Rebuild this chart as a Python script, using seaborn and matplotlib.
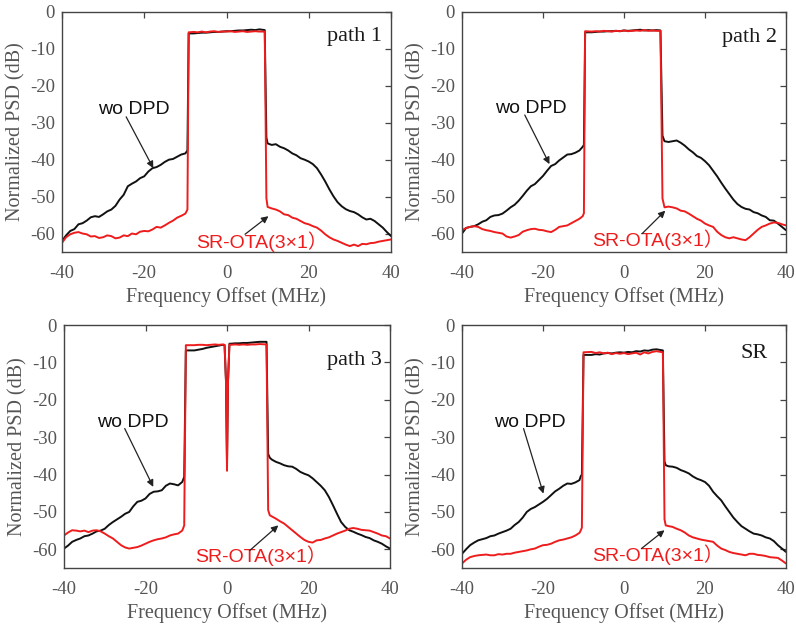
import numpy as np
import pandas as pd
import seaborn as sns
import matplotlib
matplotlib.use("Agg")
import matplotlib.pyplot as plt

# ---------------- data ----------------
skirt_left = list(range(-40, -10))
skirt_right = list(range(11, 41))
band = list(range(-8, 9))

panel_titles = ["path 1", "path 2", "path 3", "SR"]
label_wo = "wo DPD"
label_sr = "SR-OTA(3×1）"
x_ticks = [-40, -20, 0, 20, 40]
y_ticks = [0, -10, -20, -30, -40, -50, -60]

# path 1
p1_freq = skirt_left + [-10, -9.5, -9.2] + band + [9.3, 9.7, 10] + skirt_right
p1_wo = [-62.0, -60.5, -59.3, -58.8, -57.5, -57.2, -56.5, -55.6, -55.3, -55.5,
         -54.8, -54.0, -53.5, -52.5, -50.8, -49.5, -47.2, -46.5, -45.9, -45.0,
         -44.5, -43.2, -42.3, -42.0, -41.4, -40.6, -40.0, -39.8, -39.2, -38.6,
         -38.3, -37.5, -5.8,
         -5.8, -5.7, -5.6, -5.6, -5.5, -5.4, -5.4, -5.3, -5.2, -5.2, -5.1, -5.0,
         -5.0, -4.9, -4.8, -4.9, -4.7,
         -4.9, -34.0, -35.6,
         -36.0, -35.8, -36.5, -36.9, -37.5, -38.3, -38.8, -39.6, -40.0, -40.5,
         -41.2, -42.3, -44.0, -45.9, -48.0, -49.9, -51.5, -52.6, -53.4, -53.9,
         -54.2, -54.8, -55.6, -56.2, -56.0, -56.6, -57.5, -58.4, -59.6, -60.7]
p1_sr = [-62.5, -61.0, -60.2, -59.8, -59.6, -60.0, -60.2, -60.8, -60.7, -61.2,
         -61.0, -60.5, -60.7, -61.3, -61.1, -60.5, -60.7, -60.0, -60.2, -59.5,
         -59.3, -59.4, -58.9, -58.2, -58.4, -57.8, -57.1, -56.5, -55.7, -55.2,
         -54.6, -53.5, -5.5,
         -5.4, -5.5, -5.3, -5.5, -5.3, -5.2, -5.4, -5.3, -5.3, -5.2, -5.4, -5.3,
         -5.2, -5.4, -5.3, -5.2, -5.3,
         -5.3, -50.5, -52.8,
         -53.2, -53.5, -54.0, -54.8, -55.0, -55.7, -56.0, -56.6, -57.2, -57.5,
         -58.0, -58.4, -59.2, -60.2, -61.0, -61.6, -62.0, -62.5, -63.0, -63.4,
         -63.0, -63.4, -62.8, -62.9, -62.6, -62.5, -62.2, -62.0, -61.8, -61.6]

# path 2
p2_freq = skirt_left + [-10.2, -9.9, -9.6] + band + [9.0, 9.5, 10] + skirt_right
p2_wo = [-60.0, -58.5, -58.2, -58.0, -57.5, -56.8, -56.4, -55.5, -55.1, -55.0,
         -54.6, -53.8, -52.9, -52.2, -51.1, -49.8, -48.4, -47.2, -46.6, -45.5,
         -44.4, -43.0, -41.7, -41.2, -40.2, -39.4, -38.6, -38.5, -38.1, -37.5,
         -36.5, -36.0, -5.5,
         -5.5, -5.4, -5.3, -5.3, -5.2, -5.2, -5.1, -5.2, -5.0, -5.1, -5.0, -4.9,
         -4.8, -5.0, -4.9, -5.0, -4.9,
         -5.0, -33.5, -35.0,
         -35.2, -35.0, -34.8, -35.4, -36.2, -37.2, -38.0, -39.0, -39.5, -40.4,
         -41.5, -43.0, -44.5, -46.2, -47.8, -49.3, -50.8, -52.0, -52.8, -53.3,
         -53.5, -54.2, -54.5, -55.1, -55.5, -56.4, -56.5, -57.3, -58.2, -59.1]
p2_sr = [-59.1, -58.5, -58.2, -58.0, -58.2, -58.8, -59.1, -59.3, -59.6, -59.8,
         -60.0, -60.8, -61.1, -60.8, -60.4, -59.5, -59.1, -58.8, -58.7, -59.0,
         -59.1, -59.4, -59.6, -59.0, -58.2, -58.0, -57.8, -57.2, -56.6, -56.0,
         -55.3, -54.5, -5.2,
         -5.3, -5.2, -5.3, -5.1, -5.2, -5.3, -5.1, -5.2, -5.0, -5.2, -5.1, -5.0,
         -5.1, -4.9, -5.1, -5.0, -5.1,
         -5.1, -50.5, -52.9,
         -52.7, -52.9, -53.2, -53.8, -54.0, -54.6, -55.3, -56.0, -56.5, -57.3,
         -57.8, -58.2, -59.5, -60.4, -61.0, -61.3, -61.0, -61.3, -61.6, -61.8,
         -61.0, -60.0, -59.0, -58.2, -57.8, -57.3, -57.0, -57.1, -57.5, -57.8]

# path 3 (notch at 0 MHz)
p3_band = [-8, -7, -6, -5, -4, -3, -2, -1, -0.6, -0.25, 0, 0.25, 0.6,
           1, 2, 3, 4, 5, 6, 7, 8]
p3_freq = skirt_left + [-10.8, -10.5, -10.1] + p3_band + [9.7, 10.1, 10.5] + skirt_right
p3_wo = [-59.8, -59.0, -58.0, -57.5, -57.1, -56.5, -56.3, -55.8, -55.2, -55.0,
         -54.5, -53.5, -52.7, -52.0, -51.3, -50.5, -50.0, -48.5, -47.3, -47.0,
         -46.4, -45.2, -44.6, -44.5, -44.2, -43.0, -42.4, -42.6, -42.9, -42.0,
         -41.5, -40.6, -6.8,
         -6.8, -6.6, -6.4, -6.1, -5.9, -5.7, -5.5, -5.3, -5.4, -15.0, -37.0,
         -15.0, -5.0, -5.0, -4.9, -4.9, -4.8, -4.8, -4.7, -4.6, -4.5,
         -4.5, -34.5, -35.5,
         -36.0, -36.6, -37.0, -37.5, -37.8, -37.9, -38.5, -39.3, -39.8, -40.2,
         -41.0, -42.0, -43.0, -44.2, -46.0, -48.2, -50.5, -52.7, -54.0, -54.9,
         -55.3, -55.8, -56.2, -56.7, -57.0, -57.6, -58.0, -58.5, -59.2, -59.8]
p3_sr = [-56.3, -55.5, -54.9, -55.0, -55.2, -55.0, -55.4, -55.0, -54.9, -55.2,
         -55.8, -56.5, -57.1, -58.0, -58.9, -59.5, -59.8, -59.6, -59.4, -59.0,
         -58.5, -58.0, -57.6, -57.3, -57.1, -56.8, -56.3, -56.0, -55.8, -55.0,
         -54.5, -53.6, -5.4,
         -5.4, -5.3, -5.3, -5.4, -5.3, -5.2, -5.3, -5.2, -5.3, -15.0, -39.0,
         -15.0, -5.2, -5.3, -5.2, -5.3, -5.2, -5.3, -5.2, -5.2, -5.1,
         -5.2, -49.5, -50.9,
         -51.2, -51.8, -52.5, -53.1, -54.0, -54.9, -55.8, -56.7, -57.5, -58.0,
         -58.2, -57.6, -57.5, -57.1, -56.8, -56.3, -55.8, -55.4, -55.0, -54.5,
         -54.3, -54.5, -54.8, -54.9, -55.0, -55.4, -55.8, -56.3, -56.5, -57.1]

# SR
p4_freq = skirt_left + [-10.7, -10.4, -10.0] + band + [9.6, 10.0, 10.3] + skirt_right
p4_wo = [-61.2, -60.0, -58.9, -58.2, -57.6, -57.3, -57.0, -56.5, -56.3, -55.8,
         -55.4, -55.0, -54.5, -53.5, -52.7, -51.5, -50.0, -49.2, -48.7, -48.0,
         -47.3, -46.5, -45.5, -44.5, -43.8, -43.0, -42.4, -42.5, -42.1, -41.5,
         -40.5, -40.0, -8.0,
         -8.0, -7.8, -7.9, -7.6, -7.5, -7.6, -7.4, -7.3, -7.4, -7.2, -7.3, -7.0,
         -7.1, -6.8, -6.9, -6.6, -6.5,
         -6.8, -36.5, -37.5,
         -37.8, -37.9, -38.2, -38.8, -39.2, -39.7, -40.5, -41.1, -41.5, -42.0,
         -43.0, -44.6, -45.8, -46.9, -48.5, -50.0, -51.5, -52.7, -53.8, -54.5,
         -55.2, -55.8, -56.0, -56.3, -56.8, -57.1, -57.8, -58.9, -59.8, -60.7]
p4_sr = [-63.8, -62.8, -62.1, -61.8, -61.6, -61.5, -61.4, -61.6, -61.6, -61.3,
         -61.4, -61.2, -61.2, -60.9, -60.7, -60.5, -60.3, -60.0, -59.8, -59.3,
         -58.9, -58.8, -58.5, -58.0, -57.6, -57.4, -57.1, -56.8, -56.3, -55.6,
         -55.0, -54.2, -7.3,
         -7.2, -7.5, -7.3, -7.6, -7.4, -7.8, -7.5, -7.7, -7.5, -7.8, -7.6, -7.4,
         -7.9, -7.3, -7.6, -7.2, -7.0,
         -7.3, -52.0, -53.6,
         -53.8, -54.0, -54.5, -54.9, -55.5, -56.3, -56.8, -57.1, -57.4, -57.6,
         -57.8, -58.0, -59.0, -59.8, -60.2, -60.7, -61.0, -61.2, -61.4, -61.6,
         -61.2, -61.2, -61.5, -61.6, -61.8, -62.1, -62.2, -62.3, -63.0, -63.8]

freqs = [p1_freq, p2_freq, p3_freq, p4_freq]
wo_series = [p1_wo, p2_wo, p3_wo, p4_wo]
sr_series = [p1_sr, p2_sr, p3_sr, p4_sr]

# ---------------- layout / style ----------------
sns.set_theme(style="white")
plt.rcParams["font.family"] = ["Liberation Serif", "DejaVu Serif"]
plt.rcParams["axes.linewidth"] = 1.0
plt.rcParams["axes.unicode_minus"] = False

SANS = ["Liberation Sans", "Noto Sans CJK SC", "DejaVu Sans"]
GRAY_TEXT = "#555555"
SPINE = "#444444"

fig = plt.figure(figsize=(7.96, 6.24), dpi=100)
W, H = 796, 624
boxes = [(62, 12, 391, 252), (462, 12, 786, 252),
         (64, 325, 390, 568), (462, 325, 786, 568)]

title_pos = [(37.8, -7.8), (37.8, -8.0), (38.0, -10.7), (35.4, -8.9)]
wo_text = [(-22.5, -27.5), (-22.9, -27.4), (-23.0, -27.4), (-23.2, -27.2)]
wo_arrow = [((-24.4, -28.4), (-17.8, -42.3)), ((-24.5, -27.9), (-18.4, -41.2)),
            ((-25.1, -27.7), (-18.1, -43.3)), ((-24.8, -27.7), (-19.9, -45.1))]
sr_text = [(-7.5, -63.8), (-7.8, -63.4), (-7.9, -63.4), (-7.8, -63.2)]
sr_arrow = [((4.5, -60.2), (10.2, -55.3)), ((4.5, -60.0), (10.2, -53.8)),
            ((5.6, -60.3), (12.6, -53.6)), ((4.3, -59.8), (10.0, -54.9))]

for i in range(4):
    l, t, r, b = boxes[i]
    ax = fig.add_axes([l / W, 1 - b / H, (r - l) / W, (b - t) / H])
    df = pd.DataFrame({"f": freqs[i], "wo": wo_series[i], "sr": sr_series[i]})
    sns.lineplot(data=df, x="f", y="wo", ax=ax, color="#111111", lw=1.4,
                 estimator=None, sort=False)
    sns.lineplot(data=df, x="f", y="sr", ax=ax, color="#ee1c1c", lw=1.4,
                 estimator=None, sort=False)
    ax.set_xlim(-40, 40)
    ax.set_ylim(-65, 0)
    ax.set_xticks(x_ticks)
    ax.set_yticks(y_ticks)
    ax.set_xlabel("Frequency Offset (MHz)", fontsize=14.5, color=GRAY_TEXT, labelpad=4)
    ax.set_ylabel("Normalized PSD (dB)", fontsize=14.5, color=GRAY_TEXT, labelpad=3)
    ax.tick_params(direction="in", top=True, right=True, length=4, width=0.9,
                   labelsize=13.5, labelcolor=GRAY_TEXT, color=SPINE)
    ax.tick_params(axis="x", pad=9)
    ax.tick_params(axis="y", pad=5)
    for s in ax.spines.values():
        s.set_color(SPINE)
        s.set_linewidth(1.0)
    ax.grid(False)

    tx, ty = title_pos[i]
    ax.text(tx, ty, panel_titles[i], ha="right", va="baseline", fontsize=16,
            color="#1a1a1a")
    wx, wy = wo_text[i]
    ax.text(wx, wy, label_wo, ha="center", va="baseline", fontsize=14,
            color="#111111", family=SANS)
    (ax0, ay0), (ax1, ay1) = wo_arrow[i]
    ax.annotate("", xy=(ax1, ay1), xytext=(ax0, ay0),
                arrowprops=dict(arrowstyle="-|>", color="#222222", lw=0.9,
                                mutation_scale=10, shrinkA=0, shrinkB=0))
    sx, sy = sr_text[i]
    ax.text(sx, sy, label_sr, ha="left", va="baseline", fontsize=14,
            color="#ee1c1c", family=SANS)
    (bx0, by0), (bx1, by1) = sr_arrow[i]
    ax.annotate("", xy=(bx1, by1), xytext=(bx0, by0),
                arrowprops=dict(arrowstyle="-|>", color="#222222", lw=0.9,
                                mutation_scale=10, shrinkA=0, shrinkB=0))

fig.savefig("out.png", dpi=100)
